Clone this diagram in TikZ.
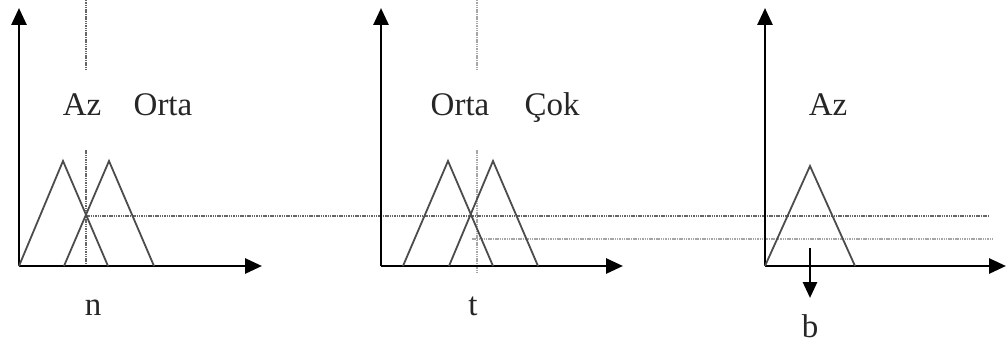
\documentclass[tikz,border=0pt]{standalone}
\usepackage{fontspec}
\setmainfont{Liberation Serif}
\usetikzlibrary{arrows.meta}
\begin{document}
\begin{tikzpicture}[x=1pt,y=-1pt,
  axis/.style={line width=2.8pt,-{Triangle[length=17pt,width=15pt]}},
  tri/.style={line width=1.8pt,black!70,line join=miter},
  dotline/.style={line width=1.4pt,black!60,dash pattern=on 1.5pt off 0.8pt},
  lightdot/.style={line width=1.4pt,black!35,dash pattern=on 1.5pt off 0.8pt},
  lbl/.style={font=\fontsize{33}{36}\selectfont,inner sep=0pt,anchor=base,text=black!85}]
\useasboundingbox (0,0) rectangle (1006,345);
% panel 1
\coordinate (o1) at (19,266); \coordinate (y1) at (19,8); \coordinate (x1) at (262,266);
\coordinate (a1) at (19,266); \coordinate (p1) at (63,161); \coordinate (b1) at (108,266);
\coordinate (a2) at (64,266); \coordinate (p2) at (109,161); \coordinate (b2) at (154,266);
\coordinate (v1t) at (86,0); \coordinate (v1m) at (86,70); \coordinate (v1n) at (86,150); \coordinate (v1b) at (86,266);
\coordinate (h1s) at (86,216); \coordinate (h1e) at (988,216);
% panel 2
\coordinate (o2) at (381,266); \coordinate (y2) at (381,8); \coordinate (x2) at (623,266);
\coordinate (c1) at (403,266); \coordinate (q1) at (448,161); \coordinate (d1) at (493,266);
\coordinate (c2) at (449,266); \coordinate (q2) at (493,161); \coordinate (d2) at (538,266);
\coordinate (v2t) at (477,0); \coordinate (v2m) at (477,70); \coordinate (v2n) at (477,150); \coordinate (v2b) at (477,272);
\coordinate (h2s) at (472,239); \coordinate (h2e) at (993,239);
% panel 3
\coordinate (o3) at (765,266); \coordinate (y3) at (765,8); \coordinate (x3) at (1006,266);
\coordinate (e1) at (765,266); \coordinate (r1) at (810,166); \coordinate (f1) at (855,266);
\coordinate (bt) at (810,248); \coordinate (bb) at (810,298);
% dotted guides
\draw[dotline] (v1t) -- (v1m); \draw[dotline] (v1n) -- (v1b);
\draw[lightdot] (v2t) -- (v2m); \draw[lightdot] (v2n) -- (v2b);
\draw[dotline] (h1s) -- (h1e);
\draw[lightdot] (h2s) -- (h2e);
% axes
\draw[axis] (o1) -- (y1); \draw[axis] (o1) -- (x1);
\draw[axis] (o2) -- (y2); \draw[axis] (o2) -- (x2);
\draw[axis] (o3) -- (y3); \draw[axis] (o3) -- (x3);
% triangles
\draw[tri] (a1) -- (p1) -- (b1); \draw[tri] (a2) -- (p2) -- (b2);
\draw[tri] (c1) -- (q1) -- (d1); \draw[tri] (c2) -- (q2) -- (d2);
\draw[tri] (e1) -- (r1) -- (f1);
\draw[line width=2.8pt,-{Triangle[length=16pt,width=14pt]}] (bt) -- (bb);
% labels
\node[lbl] (az1) at (82,115) {Az};
\node[lbl] (orta1) at (163,115) {Orta};
\node[lbl] (n) at (93,315) {n};
\node[lbl] (orta2) at (460,115) {Orta};
\node[lbl] (cok) at (552,115) {Çok};
\node[lbl] (t) at (473,315) {t};
\node[lbl] (az3) at (828,115) {Az};
\node[lbl] (b) at (810,337) {b};
\end{tikzpicture}
\end{document}
